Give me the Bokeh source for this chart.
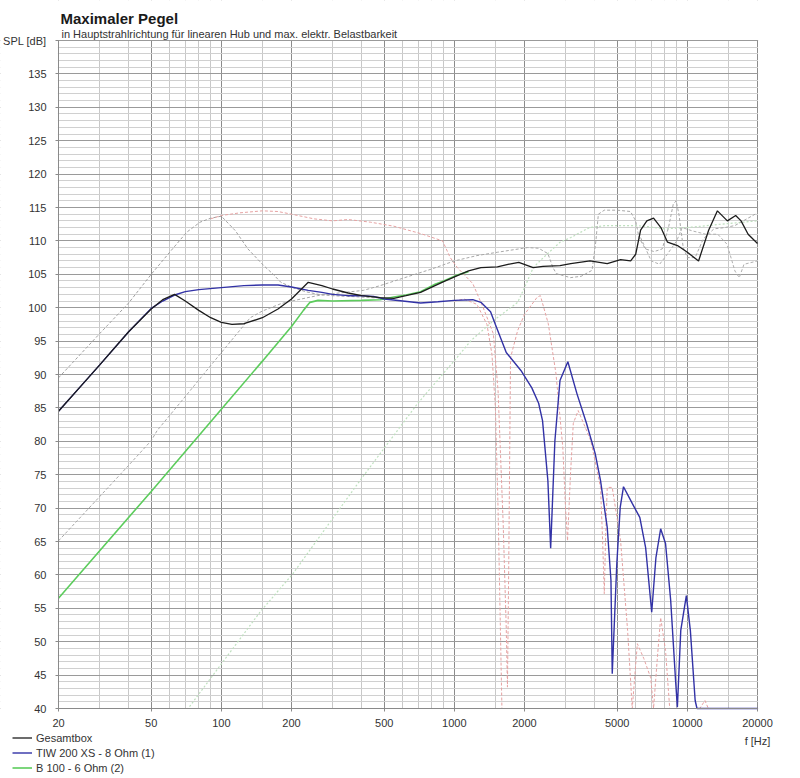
from bokeh.plotting import figure
from bokeh.models import (FixedTicker, Label, Legend, LegendItem, Range1d,
                          BasicTickFormatter, BoxAnnotation)
from bokeh.embed import file_html
from bokeh.resources import INLINE

# ---------------- data ----------------
# Gesamtbox (black)
f_total = [20, 25, 30, 40, 50, 56, 63, 70, 80, 90, 100, 111, 125, 150, 175, 200, 236, 270, 300, 350,
           400, 480, 550, 620, 716, 826, 900, 1030, 1150, 1300, 1530, 1700, 1890, 2180, 2400, 2840,
           3160, 3820, 4530, 5170, 5710, 6000, 6300, 6700, 7160, 7700, 8220, 9070, 10000, 11170,
           12340, 13460, 14850, 16120, 17000, 18230, 20000]
spl_total = [84.5, 88.3, 91.4, 96.4, 99.8, 101.2, 102.0, 101.0, 99.6, 98.5, 97.8, 97.5, 97.6, 98.5,
             99.8, 101.3, 103.8, 103.3, 102.8, 102.2, 101.8, 101.5, 101.4, 101.8, 102.3, 103.3,
             103.9, 104.8, 105.5, 106.0, 106.1, 106.5, 106.8, 106.0, 106.2, 106.3, 106.6, 107.0,
             106.6, 107.2, 107.0, 108.0, 111.6, 113.0, 113.4, 112.0, 109.8, 109.3, 108.3, 107.0,
             111.6, 114.5, 113.0, 113.8, 113.0, 111.0, 109.6]

# TIW 200 XS - 8 Ohm (blue)
f_tiw = [20, 25, 30, 40, 50, 56, 63, 70, 80, 100, 125, 150, 175, 200, 236, 270, 300, 350, 400, 450,
         500, 600, 716, 850, 1000, 1200, 1300, 1430, 1500, 1670, 1930, 2150, 2300, 2390, 2520, 2590,
         2700, 2840, 3070, 3360, 3690, 4020, 4240, 4530, 4700, 4760, 4980, 5150, 5320, 5800, 6250,
         6620, 7030, 7330, 7680, 8060, 8480, 8900, 9060, 9370, 9900, 10300, 10800, 11000, 20000]
spl_tiw = [84.5, 88.3, 91.4, 96.4, 99.9, 101.0, 101.9, 102.4, 102.7, 103.0, 103.3, 103.4, 103.4,
           103.1, 102.6, 102.3, 102.0, 101.8, 101.8, 101.7, 101.3, 101.0, 100.7, 100.9, 101.1,
           101.2, 100.8, 99.4, 97.5, 93.3, 90.6, 88.0, 85.7, 83.1, 74.1, 64.0, 80.0, 89.1, 91.9,
           87.1, 82.7, 78.2, 74.1, 67.1, 59.2, 45.2, 61.7, 70.1, 73.2, 70.7, 68.6, 64.1, 54.4,
           62.6, 66.9, 64.7, 56.2, 44.2, 40.2, 51.7, 56.9, 51.7, 41.2, 40.0, 40.0]

# B 100 - 6 Ohm (green)
f_b100 = [20, 50, 100, 150, 200, 225, 240, 260, 300, 400, 480, 550, 620, 716, 826, 900, 1030, 1150]
spl_b100 = [56.5, 72.5, 84.8, 92.0, 97.2, 99.6, 100.8, 101.1, 101.0, 101.1, 101.2, 101.6, 101.9,
            102.4, 103.5, 104.0, 104.9, 105.4]

# TIW, linear excursion limit (grey dashed)
f_tiw_hub = [20, 30, 40, 50, 60, 71, 81, 90, 100, 115, 130, 152, 167, 180, 203, 230, 260, 300, 400, 500]
spl_tiw_hub = [89.5, 96.1, 100.7, 105.0, 108.3, 111.3, 112.8, 113.4, 113.7, 111.5, 108.8, 106.3,
               105.0, 103.8, 103.0, 102.4, 102.0, 101.8, 101.6, 101.4]

# TIW, electrical power limit (pink dashed)
f_tiw_pow = [90, 100, 120, 150, 175, 200, 250, 300, 350, 437, 550, 716, 890, 960, 1030, 1200, 1330,
             1470, 1540, 1620, 1670, 1690, 1710, 1742, 1870, 2000, 2270, 2340, 2530, 2730, 2920, 3000,
             3060, 3150, 3240, 3400, 3850, 4240, 4330, 4400, 4460, 4530, 4760, 5170, 5540, 5800,
             6100, 6500, 6960, 7160, 7450, 7680, 8060, 8400, 11300, 11900, 12300, 20000]
spl_tiw_pow = [113.3, 113.8, 114.2, 114.5, 114.4, 114.0, 113.3, 113.0, 113.2, 112.8, 112.2, 111.1,
               110.0, 107.5, 106.0, 103.6, 100.0, 96.1, 87.6, 67.7, 52.0, 43.2, 60.0, 92.5, 96.6,
               99.0, 101.6, 101.8, 97.6, 90.1, 79.1, 70.0, 65.1, 75.0, 82.7, 84.6, 80.1, 73.1, 65.0,
               57.2, 66.0, 73.1, 73.1, 65.1, 51.7, 40.0, 49.7, 47.5, 44.6, 40.0, 48.0, 53.6, 48.7,
               40.0, 40.0, 41.2, 40.0, 40.0]

# TIW, second pink dashed branch
f_tiw_pow2 = [1000, 1100, 1250, 1380, 1450, 1500, 1540, 1570, 1600]
spl_tiw_pow2 = [101.0, 101.3, 100.5, 97.5, 93.0, 85.0, 70.0, 55.0, 40.0]

# B 100, linear excursion limit (grey dashed)
f_b100_hub = [20, 30, 40, 50, 53, 70, 99, 133, 150, 180, 200, 258, 300, 408, 480, 600, 800, 1000,
              1250, 1530, 2060, 2300, 2520, 2650, 2740, 3150, 3500, 3900, 4050, 4150, 4400, 5000,
              5700, 6000, 6200, 6600, 7200, 7800, 8300, 8700, 8950, 9200, 9600, 10000, 10800, 11700,
              13000, 14500, 16000, 18000, 20000]
spl_b100_hub = [65.1, 71.7, 76.4, 80.1, 81.6, 86.7, 93.1, 98.5, 99.5, 100.6, 101.0, 101.8, 102.1,
                102.6, 103.3, 104.4, 105.8, 107.0, 107.8, 108.3, 109.0, 108.9, 108.1, 106.0, 105.1,
                104.5, 104.7, 105.6, 110.0, 114.0, 114.6, 114.6, 114.4, 113.0, 110.5, 108.8, 108.4,
                108.8, 112.0, 115.5, 116.0, 114.0, 109.0, 107.5, 107.5, 110.3, 111.8, 112.0, 112.3,
                113.3, 114.2]

# second grey dashed branch at high frequencies
f_b100_hub2 = [6300, 7000, 7600, 8200, 9000, 9500, 10500, 12000, 13500, 14800, 16000, 16700, 17500, 20000]
spl_b100_hub2 = [110.5, 107.0, 106.5, 108.0, 110.0, 112.0, 111.5, 111.0, 111.0, 109.5, 105.5, 104.5,
                 106.5, 107.0]

# B 100, electrical power limit (light green dotted)
f_b100_pow = [20, 72, 147, 203, 393, 697, 1030, 1180, 1500, 1870, 2000, 2180, 2410, 2840, 3160,
              3800, 4500, 6100, 8000, 10000, 14000, 20000]
spl_b100_pow = [40.0, 40.0, 54.5, 60.2, 74.1, 85.7, 92.6, 95.1, 98.3, 100.8, 103.0, 106.0, 107.5,
                109.8, 110.5, 112.0, 112.3, 112.3, 111.8, 112.0, 112.5, 113.0]

x_major = [20, 50, 100, 200, 500, 1000, 2000, 5000, 10000, 20000]
x_minor = [30, 40, 60, 70, 80, 90, 150, 300, 400, 600, 700, 800, 900, 1500, 3000, 4000,
           6000, 7000, 8000, 9000, 15000]
y_major = list(range(40, 141, 5))
y_minor = list(range(40, 141, 1))

legend_names = ["Gesamtbox", "TIW 200 XS - 8 Ohm (1)", "B 100 - 6 Ohm (2)"]
title_text = "Maximaler Pegel"
subtitle_text = "in Hauptstrahlrichtung für linearen Hub und max. elektr. Belastbarkeit"
x_unit = "f [Hz]"
y_unit = "SPL [dB]"

# ---------------- layout (pixel placement of the data area) ----------------
W, H = 800, 778
PL, PR, PT, PB = 58, 43, 40, 70          # margins around the data area
X0, X1, Y0, Y1 = 20, 20000, 40, 140       # data area limits
px_dec = (W - PL - PR) / 3.0              # pixels per decade
px_db = (H - PT - PB) / (Y1 - Y0)         # pixels per dB
xr = Range1d(X0 / 10 ** (PL / px_dec), X1 * 10 ** (PR / px_dec))
yr = Range1d(Y0 - PB / px_db, Y1 + PT / px_db)

FONT = "Liberation Sans"
p = figure(width=W, height=H, x_axis_type="log", x_range=xr, y_range=yr,
           output_backend="svg", toolbar_location=None, min_border=0)
p.background_fill_color = "white"
p.border_fill_color = "white"
p.outline_line_color = None

p.xaxis.fixed_location = Y0
p.yaxis.fixed_location = X0
p.xaxis.bounds = (X0, X1)
p.yaxis.bounds = (Y0, Y1)
p.xaxis.ticker = FixedTicker(ticks=x_major, minor_ticks=x_minor)
p.xaxis.formatter = BasicTickFormatter(use_scientific=False)
p.yaxis.ticker = FixedTicker(ticks=y_major, minor_ticks=y_minor)
p.yaxis.major_label_overrides = {140: y_unit}

for ax in (p.xaxis, p.yaxis):
    ax.axis_line_color = "#8a8a8a"
    ax.major_tick_line_color = "#8a8a8a"
    ax.major_tick_out = 3
    ax.major_tick_in = 0
    ax.minor_tick_line_color = None
    ax.major_label_text_font = FONT
    ax.major_label_text_font_size = "11px"
    ax.major_label_text_color = "#333333"
p.xaxis.major_label_standoff = 6
p.yaxis.major_label_standoff = 8

p.xgrid.grid_line_color = "#8c8c8c"
p.xgrid.minor_grid_line_color = "#c8c8c8"
p.ygrid.grid_line_color = "#9a9a9a"
p.ygrid.minor_grid_line_color = "#d0d0d0"

# white masks so that the grid only shows inside the data area
ey = 0.6 / px_db
ex = 10 ** (0.6 / px_dec)
for kw in (dict(top=Y0 - ey), dict(bottom=Y1 + ey), dict(right=X0 / ex), dict(left=X1 * ex)):
    p.add_layout(BoxAnnotation(fill_color="white", fill_alpha=1.0, line_color=None,
                               level="underlay", **kw))

# dashed limit curves
p.line(f_b100_pow, spl_b100_pow, line_color="#bfe0bf", line_width=1.2, line_dash="2 2")
p.line(f_b100_hub, spl_b100_hub, line_color="#a8a8a8", line_width=1, line_dash="3 2")
p.line(f_b100_hub2, spl_b100_hub2, line_color="#b0b0b0", line_width=1, line_dash="3 2")
p.line(f_tiw_hub, spl_tiw_hub, line_color="#a0a0a0", line_width=1, line_dash="3 2")
p.line(f_tiw_pow, spl_tiw_pow, line_color="#e6a2a2", line_width=1, line_dash="3 2")
p.line(f_tiw_pow2, spl_tiw_pow2, line_color="#e6a2a2", line_width=1, line_dash="3 2")

# solid curves
r_b100 = p.line(f_b100, spl_b100, line_color="#5ccc5c", line_width=1.6)
r_tiw = p.line(f_tiw, spl_tiw, line_color="#3232a6", line_width=1.4)
r_total = p.line(f_total, spl_total, line_color="#1c1c1c", line_width=1.3)

legend = Legend(items=[LegendItem(label=legend_names[0], renderers=[r_total]),
                       LegendItem(label=legend_names[1], renderers=[r_tiw]),
                       LegendItem(label=legend_names[2], renderers=[r_b100])],
                location=(12, 3), orientation="vertical",
                glyph_width=20, glyph_height=15, label_height=15, label_standoff=4,
                spacing=0, padding=0, margin=0,
                border_line_alpha=0, background_fill_alpha=0,
                label_text_font=FONT, label_text_font_size="11px",
                label_text_color="#333333")
p.add_layout(legend, "center")

p.add_layout(Label(x=60, y=H - 18, x_units="screen", y_units="screen", text=title_text,
                   text_font=FONT, text_font_style="bold", text_font_size="15px",
                   text_color="#1a1a1a", text_baseline="alphabetic"))
p.add_layout(Label(x=61, y=H - 33, x_units="screen", y_units="screen", text=subtitle_text,
                   text_font=FONT, text_font_size="11px", text_color="#333333",
                   text_baseline="alphabetic"))
p.add_layout(Label(x=W - PR, y=38, x_units="screen", y_units="screen", text=x_unit,
                   text_font=FONT, text_font_size="11px", text_color="#333333",
                   text_align="center", text_baseline="alphabetic"))

open("out.html", "w").write(file_html(p, INLINE))
